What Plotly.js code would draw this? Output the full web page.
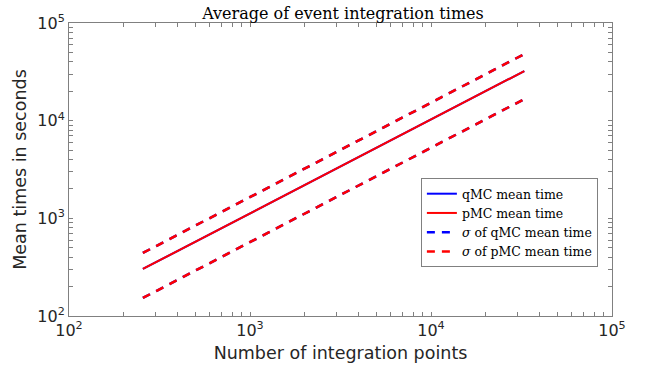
<!DOCTYPE html>
<html><head><meta charset="utf-8">
<script src="https://cdn.plot.ly/plotly-3.0.1.min.js"></script>
<style>body{margin:0;padding:0;background:#fff}#chart{width:657px;height:368px}</style>
</head><body><div id="chart"></div>
<script>
const points = [256, 512, 1024, 2048, 4096, 8192, 16384, 32768];
const qmcMean = [303, 590, 1148, 2239, 4365, 8492, 16560, 32200];
const pmcMean = [303, 590, 1148, 2239, 4365, 8492, 16560, 32200];
const qmcUpper = [442, 863, 1687, 3296, 6442, 12590, 24600, 48100];
const qmcLower = [153, 299, 583, 1140, 2228, 4355, 8511, 16630];
const pmcUpper = [442, 863, 1687, 3296, 6442, 12590, 24600, 48100];
const pmcLower = [153, 299, 583, 1140, 2228, 4355, 8511, 16630];
const seriesNames = ['qMC mean time', 'pMC mean time', '<i>σ</i> of qMC mean time', '<i>σ</i> of pMC mean time'];

function logTicks(lo, hi) {
  const vals = [], txt = [];
  for (let e = lo; e <= hi; e++) {
    for (let m = 1; m <= 9; m++) {
      if (e === hi && m > 1) break;
      vals.push(m * Math.pow(10, e));
      txt.push(m === 1 ? '10<sup>' + e + '</sup>' : '');
    }
  }
  return {vals, txt};
}
const xt = logTicks(2, 5), yt = logTicks(2, 5);

const blue = '#0000ff', red = '#ff0000';
const dash = '8px,7px';
const traces = [
  {x: points, y: qmcMean, name: seriesNames[0], mode: 'lines', line: {color: blue, width: 2}, legendrank: 1},
  {x: points, y: qmcUpper, name: seriesNames[2], mode: 'lines', line: {color: blue, width: 2.5, dash: dash}, legendrank: 3},
  {x: points, y: qmcLower, name: seriesNames[2], mode: 'lines', line: {color: blue, width: 2.5, dash: dash}, showlegend: false},
  {x: points, y: pmcMean, name: seriesNames[1], mode: 'lines', line: {color: red, width: 2}, legendrank: 2},
  {x: points, y: pmcUpper, name: seriesNames[3], mode: 'lines', line: {color: red, width: 2.5, dash: dash}, legendrank: 4},
  {x: points, y: pmcLower, name: seriesNames[3], mode: 'lines', line: {color: red, width: 2.5, dash: dash}, showlegend: false}
];

const axisCommon = {
  type: 'log', showgrid: false, zeroline: false, showline: true, linecolor: '#808080', linewidth: 1,
  mirror: 'ticks', ticks: 'inside', ticklen: 4, tickcolor: '#808080',
  tickfont: {family: 'DejaVu Sans', size: 16, color: '#262626'}
};
const layout = {
  width: 657, height: 368,
  margin: {l: 69, r: 45, t: 23, b: 52},
  paper_bgcolor: '#fff', plot_bgcolor: '#fff',
  title: {text: 'Average of event integration times', x: 0.522, xanchor: 'center', y: 0.978, yanchor: 'top',
          font: {family: 'DejaVu Serif', size: 16, color: '#000'}},
  xaxis: Object.assign({}, axisCommon, {range: [2, 5], tickmode: 'array', tickvals: xt.vals, ticktext: xt.txt,
          title: {text: 'Number of integration points', standoff: 7, font: {family: 'DejaVu Sans', size: 17.5, color: '#262626'}}}),
  yaxis: Object.assign({}, axisCommon, {range: [2, 5], tickmode: 'array', tickvals: yt.vals, ticktext: yt.txt,
          title: {text: 'Mean times in seconds', standoff: 6, font: {family: 'DejaVu Sans', size: 17.5, color: '#262626'}}}),
  showlegend: true,
  legend: {x: 0.974, y: 0.167, xanchor: 'right', yanchor: 'bottom', bgcolor: '#fff', bordercolor: '#808080', borderwidth: 1,
           font: {family: 'DejaVu Serif', size: 12.5, color: '#000'}, tracegroupgap: 0, itemwidth: 30}
};
Plotly.newPlot('chart', traces, layout, {displayModeBar: false, staticPlot: true});
</script></body></html>
